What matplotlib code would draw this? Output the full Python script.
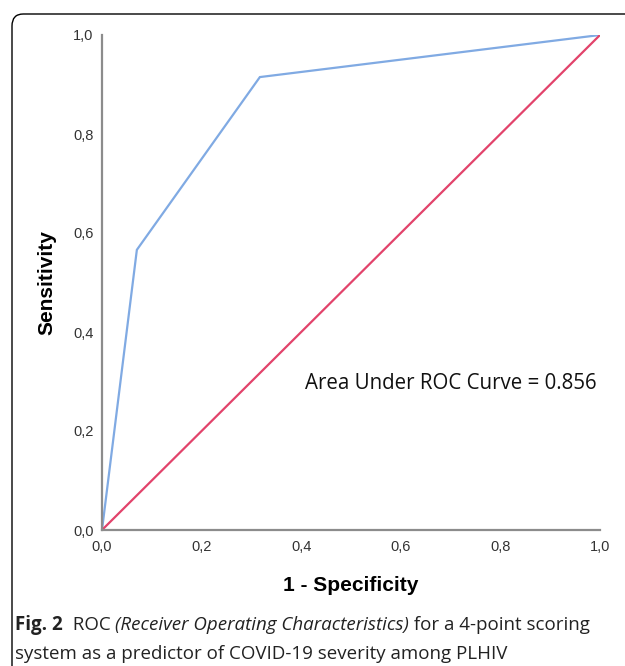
import matplotlib.pyplot as plt
from matplotlib.patches import FancyBboxPatch

# ROC curve points
fpr = [0.0, 0.07, 0.317, 1.0]
tpr = [0.0, 0.566, 0.915, 1.0]
ref = [0.0, 1.0]
ticks = [0.0, 0.2, 0.4, 0.6, 0.8, 1.0]
tick_labels = ["0,0", "0,2", "0,4", "0,6", "0,8", "1,0"]
auc_text = "Area Under ROC Curve = 0.856"

fig = plt.figure(figsize=(6.25, 6.66), dpi=100)

# rounded frame around the figure + caption (open at right/bottom)
frame = FancyBboxPatch((12 / 625, -0.2), 1.2, (666 - 14) / 666 + 0.2,
                       boxstyle="round,pad=0,rounding_size=0.018",
                       transform=fig.transFigure, fill=False,
                       edgecolor="black", linewidth=1.0, clip_on=False)
fig.patches.append(frame)

ax = fig.add_axes([102 / 625, 136 / 666, 498 / 625, 495 / 666])
ax.plot(fpr, tpr, color="#80aae3", linewidth=1.6, solid_joinstyle="miter")
ax.plot(ref, ref, color="#e2436b", linewidth=1.6)
ax.set_xlim(0, 1)
ax.set_ylim(0, 1)

for side in ["top", "right"]:
    ax.spines[side].set_visible(False)
for side in ["left", "bottom"]:
    ax.spines[side].set_color("#8c8c8c")
    ax.spines[side].set_linewidth(1.6)

ax.set_xticks(ticks)
ax.set_yticks(ticks)
ax.set_xticklabels(tick_labels, family="Liberation Sans", fontsize=10.5, color="#333333")
ax.set_yticklabels(tick_labels, family="Liberation Sans", fontsize=10.5, color="#333333")
ax.tick_params(axis="x", length=0, pad=7)
ax.tick_params(axis="y", length=0, pad=6)

ax.set_xlabel("1 - Specificity", family="Liberation Sans", fontweight="bold",
              fontsize=15, labelpad=16)
ax.set_ylabel("Sensitivity", family="Liberation Sans", fontweight="bold",
              fontsize=15, labelpad=12)

ax.text(0.408, 0.295, auc_text, family="Open Sans", fontsize=14.8,
        va="center", ha="left", color="#111111")

# caption with mixed styles
fig.canvas.draw()
renderer = fig.canvas.get_renderer()
cap_size = 13.5
x0 = 15 / 625
parts1 = [("Fig. 2", "bold", "normal"), ("  ROC ", "normal", "normal"),
          ("(Receiver Operating Characteristics)", "normal", "italic"),
          (" for a 4-point scoring", "normal", "normal")]
x = x0
y1 = 1 - 630 / 666
for s, w, st in parts1:
    t = fig.text(x, y1, s, family="Open Sans", fontsize=cap_size, fontweight=w,
                 fontstyle=st, va="baseline", ha="left", color="#222222")
    bb = t.get_window_extent(renderer)
    x += bb.width / fig.bbox.width
fig.text(x0, 1 - 659 / 666, "system as a predictor of COVID-19 severity among PLHIV",
         family="Open Sans", fontsize=cap_size, va="baseline", ha="left",
         color="#222222")

fig.savefig("out.png", dpi=100)
